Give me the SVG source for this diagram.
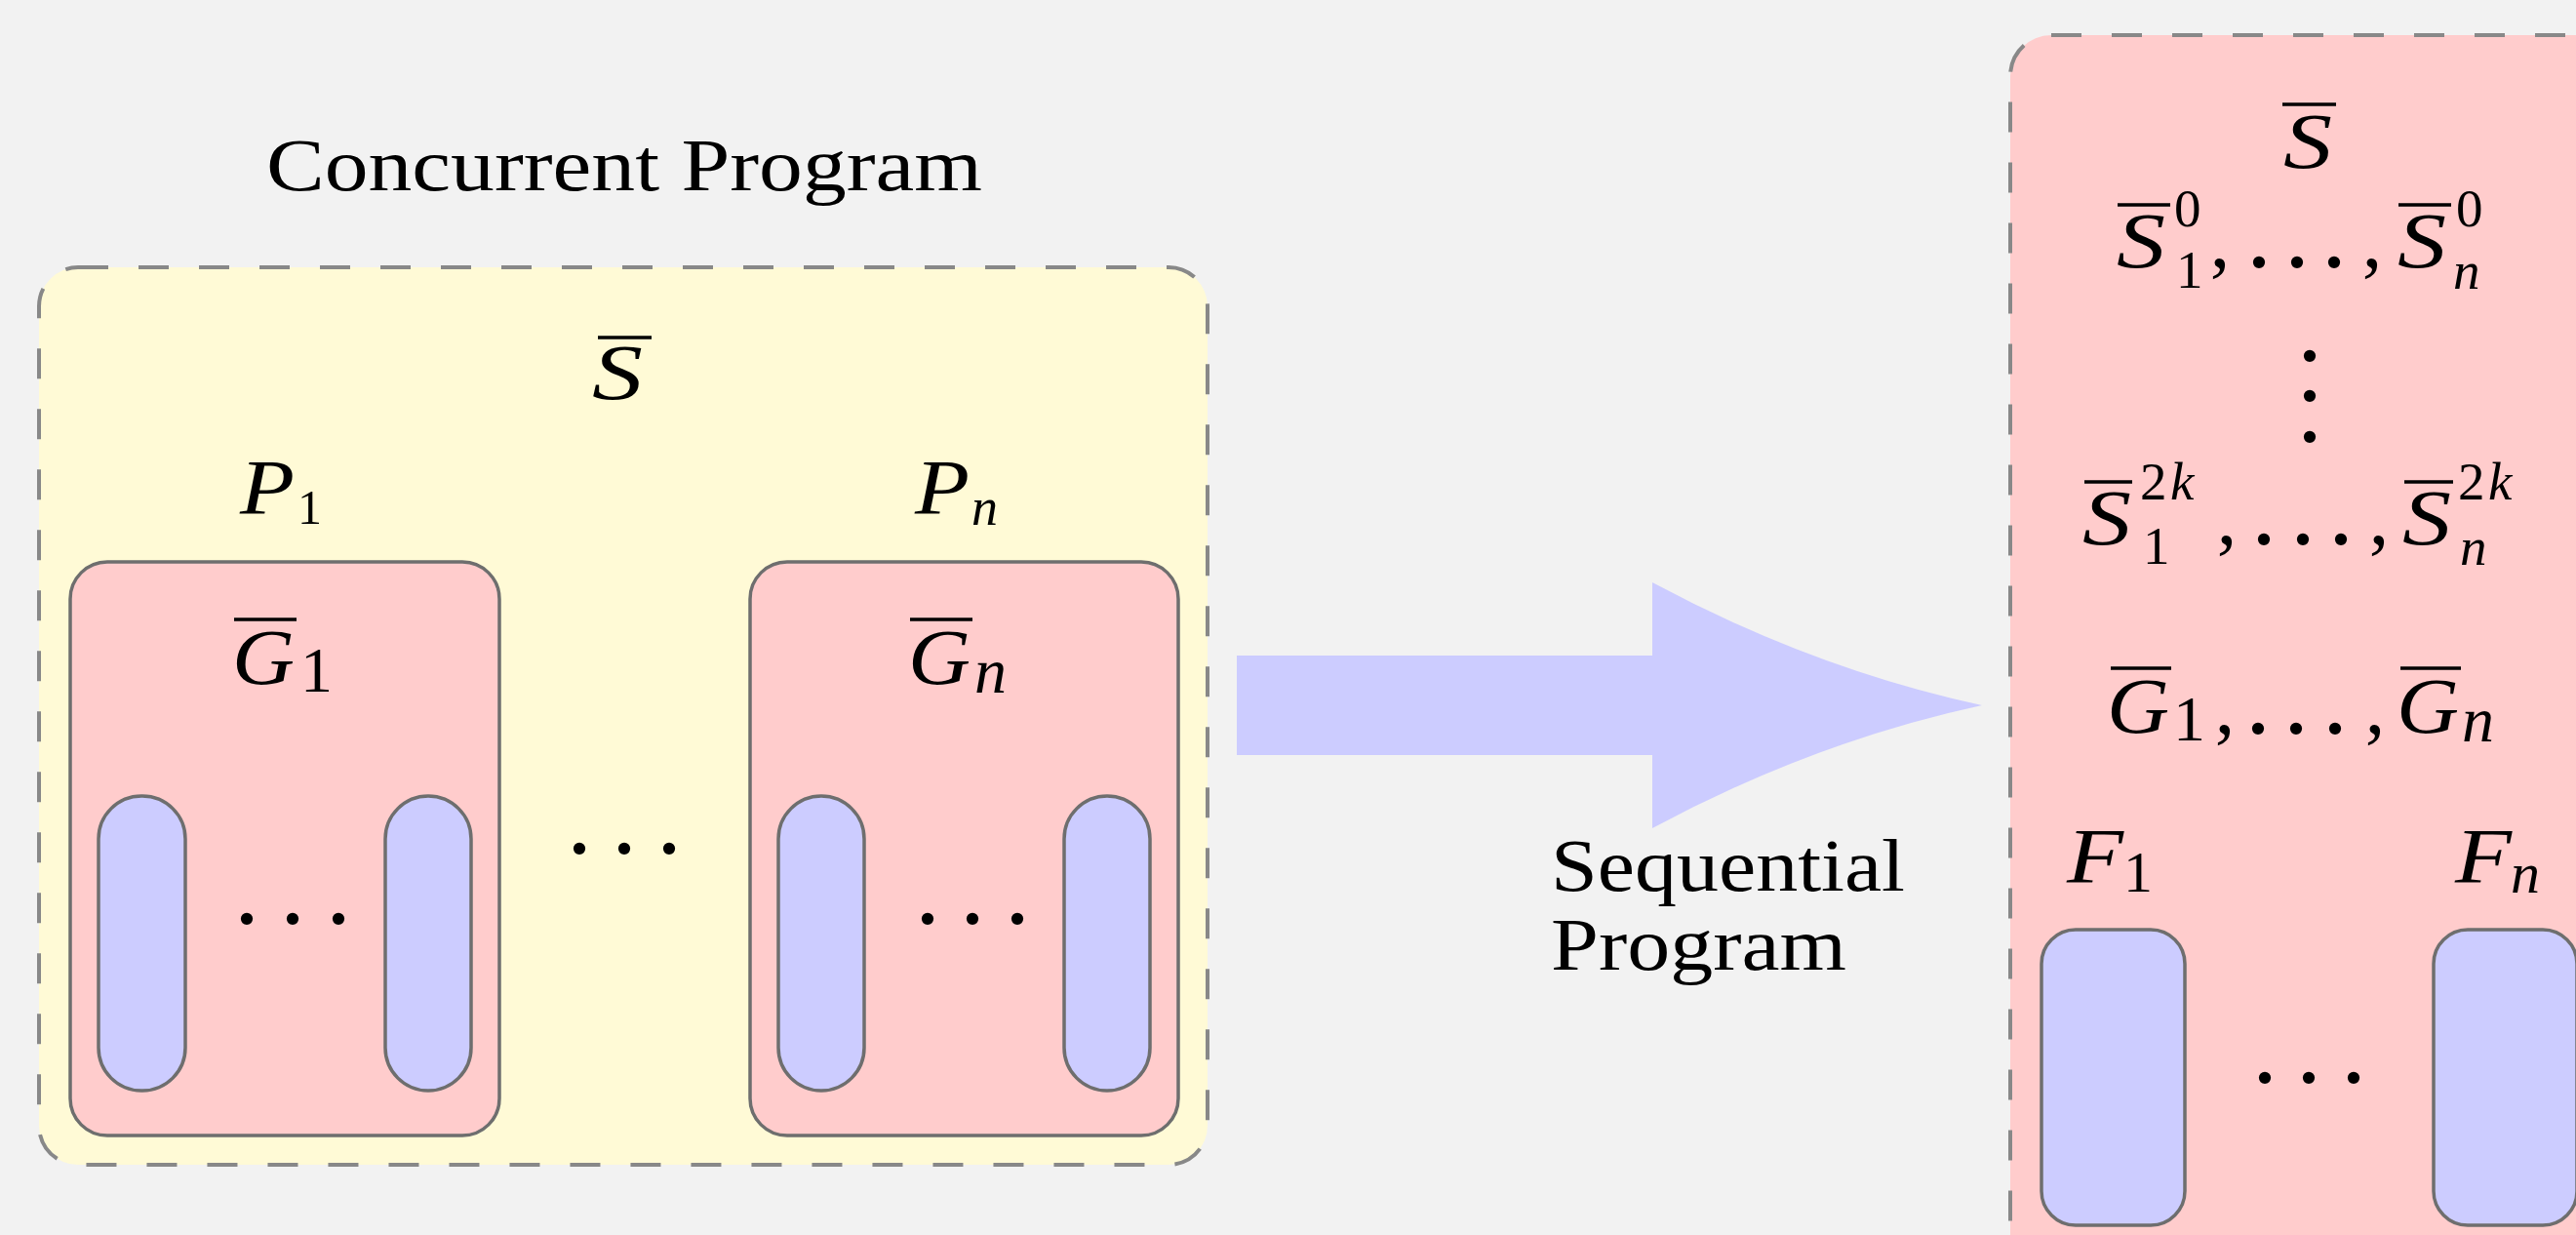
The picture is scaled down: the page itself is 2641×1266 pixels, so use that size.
<svg xmlns="http://www.w3.org/2000/svg" width="2641" height="1266" viewBox="0 0 2641 1266">
  <style>
    .frame { stroke: #888888; stroke-width: 4; stroke-dasharray: 31 31; }
    .box { stroke: #6e6e6e; stroke-width: 3.5; }
    .pink { fill: #ffcccc; }
    .blue { fill: #ccccff; }
    .yellow { fill: #fffad6; }
    .roman { font-family: "Liberation Serif", "Times New Roman", serif; fill: #000; }
    .label { font-size: 76px; }
    .mi { font-family: "Liberation Serif", "Times New Roman", serif; font-style: italic; font-size: 80px; fill: #000; }
    .sub { font-family: "Liberation Serif", "Times New Roman", serif; font-size: 50px; fill: #000; }
    .subi { font-family: "Liberation Serif", "Times New Roman", serif; font-style: italic; font-size: 54px; fill: #000; }
    .subS { font-size: 55px; }
    .subF { font-size: 60px; }
    .subG { font-size: 66px; }
    .dot { font-family: "Liberation Serif", "Times New Roman", serif; font-size: 104px; fill: #000; text-anchor: middle; }
    .comma { font-family: "Liberation Serif", "Times New Roman", serif; font-size: 82px; fill: #000; text-anchor: middle; }
    .bar { stroke: #000; stroke-width: 3.5; }
  </style>

  <rect x="0" y="0" width="2641" height="1266" fill="#f2f2f2"/>

  <!-- concurrent program -->
  <g id="concurrent-program">
    <text class="roman label" x="273" y="195" textLength="734" lengthAdjust="spacingAndGlyphs">Concurrent Program</text>
    <rect class="yellow frame" x="40" y="274" width="1198" height="920" rx="40" ry="40"/>
    <g id="shared-state">
      <line class="bar" x1="613" y1="346" x2="668" y2="346"/>
      <text class="mi" x="607" y="409" textLength="52" lengthAdjust="spacingAndGlyphs">S</text>
    </g>
    <text class="dot" x="594 640 686" y="874.5">...</text>
  </g>

  <!-- process P1 -->
  <g id="process-1">
    <text class="mi" x="246" y="527" textLength="56" lengthAdjust="spacingAndGlyphs">P</text>
    <text class="sub" x="305" y="537">1</text>
    <rect class="pink box" x="72" y="576" width="440" height="588" rx="38" ry="38"/>
    <line class="bar" x1="240" y1="635" x2="304" y2="635"/>
    <text class="mi" x="238" y="701" textLength="64" lengthAdjust="spacingAndGlyphs">G</text>
    <text class="sub subG" x="308" y="709">1</text>
    <rect class="blue box" x="101" y="816" width="89" height="302" rx="44" ry="44"/>
    <rect class="blue box" x="395" y="816" width="88" height="302" rx="44" ry="44"/>
    <text class="dot" x="253 300 347" y="946.5">...</text>
  </g>

  <!-- process Pn -->
  <g id="process-n">
    <text class="mi" x="938" y="527" textLength="56" lengthAdjust="spacingAndGlyphs">P</text>
    <text class="subi" x="996" y="538">n</text>
    <rect class="pink box" x="769" y="576" width="439" height="588" rx="38" ry="38"/>
    <line class="bar" x1="933" y1="635" x2="997" y2="635"/>
    <text class="mi" x="931" y="701" textLength="64" lengthAdjust="spacingAndGlyphs">G</text>
    <text class="subi subG" x="999" y="710">n</text>
    <rect class="blue box" x="798" y="816" width="88" height="302" rx="44" ry="44"/>
    <rect class="blue box" x="1091" y="816" width="88" height="302" rx="44" ry="44"/>
    <text class="dot" x="951 997 1043" y="946.5">...</text>
  </g>

  <!-- connectors -->
  <g id="connectors">
    <path id="translation-arrow" class="blue" d="M1268,672 H1694 V597 Q1860,686 2032,723 Q1860,760 1694,849 V774 H1268 Z"/>
    <text class="roman label" x="1590" y="913" textLength="363" lengthAdjust="spacingAndGlyphs">Sequential</text>
    <text class="roman label" x="1590" y="994" textLength="303" lengthAdjust="spacingAndGlyphs">Program</text>
  </g>

  <!-- sequential program -->
  <g id="sequential-program">
    <rect class="pink frame" x="2061" y="36" width="700" height="1320" rx="42" ry="42"/>

    <!-- shared state -->
    <line class="bar" x1="2340" y1="107" x2="2395" y2="107"/>
    <text class="mi" x="2341" y="172" textLength="50" lengthAdjust="spacingAndGlyphs">S</text>

    <!-- initial copies -->
    <g id="copies-0">
      <line class="bar" x1="2171" y1="210" x2="2225" y2="210"/>
      <text class="mi" x="2170" y="274" textLength="50" lengthAdjust="spacingAndGlyphs">S</text>
      <text class="sub subS" x="2229" y="232">0</text>
      <text class="sub subS" x="2231" y="295">1</text>
      <text class="comma" x="2276" y="274">,</text>
      <text class="dot" x="2316 2355 2393" y="273.5">...</text>
      <text class="comma" x="2432" y="274">,</text>
      <line class="bar" x1="2459" y1="210" x2="2513" y2="210"/>
      <text class="mi" x="2458" y="274" textLength="50" lengthAdjust="spacingAndGlyphs">S</text>
      <text class="sub subS" x="2518" y="232">0</text>
      <text class="subi subS" x="2515" y="296">n</text>
    </g>

    <text class="dot" x="2368 2368 2368" y="369.5 410.5 452.5">...</text>

    <!-- last copies -->
    <g id="copies-2k">
      <line class="bar" x1="2137" y1="494" x2="2186" y2="494"/>
      <text class="mi" x="2135" y="558" textLength="50" lengthAdjust="spacingAndGlyphs">S</text>
      <text class="sub subS" x="2194" y="512">2</text>
      <text class="subi subS" x="2225" y="512">k</text>
      <text class="sub subS" x="2197" y="578">1</text>
      <text class="comma" x="2283" y="558">,</text>
      <text class="dot" x="2321 2361 2400" y="557.5">...</text>
      <text class="comma" x="2439" y="558">,</text>
      <line class="bar" x1="2465" y1="494" x2="2515" y2="494"/>
      <text class="mi" x="2463" y="558" textLength="50" lengthAdjust="spacingAndGlyphs">S</text>
      <text class="sub subS" x="2520" y="512">2</text>
      <text class="subi subS" x="2551" y="512">k</text>
      <text class="subi subS" x="2522" y="579">n</text>
    </g>

    <!-- globals -->
    <g id="globals">
      <line class="bar" x1="2164" y1="685" x2="2226" y2="685"/>
      <text class="mi" x="2160" y="751" textLength="64" lengthAdjust="spacingAndGlyphs">G</text>
      <text class="sub subG" x="2228" y="759">1</text>
      <text class="comma" x="2281" y="752">,</text>
      <text class="dot" x="2315 2354 2394" y="751.5">...</text>
      <text class="comma" x="2435" y="752">,</text>
      <line class="bar" x1="2461" y1="685" x2="2523" y2="685"/>
      <text class="mi" x="2457" y="751" textLength="64" lengthAdjust="spacingAndGlyphs">G</text>
      <text class="subi subG" x="2524" y="760">n</text>
    </g>

    <!-- functions -->
    <g id="function-1">
      <text class="mi" x="2119" y="905" textLength="58" lengthAdjust="spacingAndGlyphs">F</text>
      <text class="sub subF" x="2177" y="914">1</text>
      <rect class="blue box" x="2093" y="953" width="147" height="303" rx="35" ry="35"/>
    </g>
    <text class="dot" x="2322 2367 2413" y="1109.5">...</text>
    <g id="function-n">
      <text class="mi" x="2517" y="905" textLength="58" lengthAdjust="spacingAndGlyphs">F</text>
      <text class="subi subF" x="2574" y="915">n</text>
      <rect class="blue box" x="2495" y="953" width="147" height="303" rx="35" ry="35"/>
    </g>
  </g>
</svg>
